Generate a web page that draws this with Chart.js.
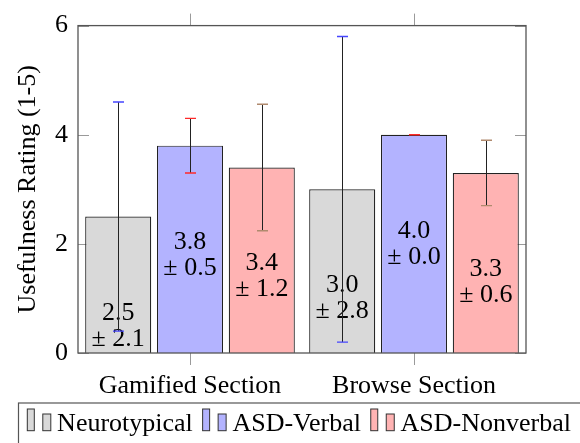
<!DOCTYPE html>
<html>
<head>
<meta charset="utf-8">
<script src="https://cdn.jsdelivr.net/npm/chart.js@4/dist/chart.umd.min.js"></script>
<style>
  body { margin: 0; background: #fff; }
  #wrap { width: 580px; height: 443px; }
</style>
</head>
<body>
<div id="wrap"><canvas id="chart"></canvas></div>
<script>
// ====== DATA ======
const categories = ["Gamified Section", "Browse Section"];
const groups = ["Neurotypical", "ASD-Verbal", "ASD-Nonverbal"];
const neuroMean = [2.5, 3.0];
const neuroErr = [2.1, 2.8];
const verbalMean = [3.8, 4.0];
const verbalErr = [0.5, 0.0];
const nonverbalMean = [3.4, 3.3];
const nonverbalErr = [1.16, 0.6];
const yTicks = [0, 2, 4, 6];

const fills = ["#d9d9d9", "#b3b3ff", "#ffb3b3"];
const capColors = ["#4646ff", "#ff2a2a", "#b08a6e"];
const errs = [neuroErr, verbalErr, nonverbalErr];

Chart.defaults.font.family = "'Liberation Serif', 'Times New Roman', serif";
Chart.defaults.font.size = 26;
Chart.defaults.color = "#000";

// ====== AXIS BOX + TICKS ======
const axisBox = {
  id: "axisBox",
  beforeDatasetsDraw(chart) {
    const { ctx, chartArea: a, scales } = chart;
    ctx.save();
    ctx.strokeStyle = "#9a9a9a";
    ctx.lineWidth = 1;
    yTicks.forEach(v => {
      const y = Math.round(scales.y.getPixelForValue(v)) + 0.5;
      ctx.beginPath();
      ctx.moveTo(a.left, y); ctx.lineTo(a.left + 11, y);
      ctx.moveTo(a.right - 11, y); ctx.lineTo(a.right, y);
      ctx.stroke();
    });
    categories.forEach((c, i) => {
      const x = Math.round(scales.x.getPixelForValue(i)) + 0.5;
      ctx.beginPath();
      ctx.moveTo(x, a.top - 12); ctx.lineTo(x, a.top);
      ctx.moveTo(x, a.bottom); ctx.lineTo(x, a.bottom + 12);
      ctx.stroke();
    });
    ctx.restore();
  },
  afterDraw(chart) {
    const { ctx, chartArea: a } = chart;
    ctx.save();
    ctx.strokeStyle = "#555";
    ctx.lineWidth = 1.3;
    ctx.strokeRect(a.left, a.top, a.right - a.left, a.bottom - a.top);
    ctx.restore();
  }
};

// ====== VALUE LABELS + ERROR BARS ======
const barExtras = {
  id: "barExtras",
  afterDatasetsDraw(chart) {
    const { ctx, scales } = chart;
    ctx.save();
    chart.data.datasets.forEach((ds, di) => {
      const meta = chart.getDatasetMeta(di);
      meta.data.forEach((bar, i) => {
        const m = ds.data[i];
        const e = errs[di][i];
        // labels
        const cy = scales.y.getPixelForValue(m - 2);
        ctx.fillStyle = "#000";
        ctx.font = "26px 'Liberation Serif', serif";
        ctx.textAlign = "center";
        ctx.textBaseline = "middle";
        ctx.fillText(m.toFixed(1), bar.x, cy - 13);
        ctx.fillText("\u00b1 " + e.toFixed(1), bar.x, cy + 13);
        // error bar
        const yt = scales.y.getPixelForValue(m + e);
        const yb = scales.y.getPixelForValue(m - e);
        const x = Math.round(bar.x) + 0.5;
        ctx.strokeStyle = "#222";
        ctx.lineWidth = 1;
        ctx.beginPath();
        ctx.moveTo(x, yt); ctx.lineTo(x, yb);
        ctx.stroke();
        ctx.strokeStyle = capColors[di];
        ctx.lineWidth = 1.4;
        ctx.beginPath();
        ctx.moveTo(x - 5.5, yt); ctx.lineTo(x + 5.5, yt);
        ctx.moveTo(x - 5.5, yb); ctx.lineTo(x + 5.5, yb);
        ctx.stroke();
      });
    });
    ctx.restore();
  }
};

// ====== LEGEND ======
const boxLegend = {
  id: "boxLegend",
  afterDraw(chart) {
    const { ctx } = chart;
    ctx.save();
    ctx.strokeStyle = "#555";
    ctx.lineWidth = 1.2;
    ctx.strokeRect(18.5, 403, 600, 60);
    ctx.font = "26px 'Liberation Serif', serif";
    ctx.textAlign = "left";
    ctx.textBaseline = "alphabetic";
    let s = 27.3;
    chart.data.datasets.forEach((ds, di) => {
      ctx.fillStyle = ds.backgroundColor;
      ctx.strokeStyle = "#333";
      ctx.lineWidth = 1;
      ctx.fillRect(s, 409, 7, 21.7);
      ctx.strokeRect(s, 409, 7, 21.7);
      ctx.fillRect(s + 15.5, 414, 8, 16.7);
      ctx.strokeRect(s + 15.5, 414, 8, 16.7);
      ctx.fillStyle = "#000";
      const tx = s + 29.8;
      ctx.fillText(ds.label, tx, 430.5);
      s = tx + ctx.measureText(ds.label).width + 9.8;
    });
    ctx.restore();
  }
};

const means = [neuroMean, verbalMean, nonverbalMean];

new Chart(document.getElementById("chart"), {
  type: "bar",
  data: {
    labels: categories,
    datasets: groups.map((g, i) => ({
      label: g,
      data: means[i],
      backgroundColor: fills[i],
      borderColor: "#222",
      borderWidth: 1.2,
      barPercentage: 0.92,
      categoryPercentage: 0.9616
    }))
  },
  options: {
    responsive: true,
    maintainAspectRatio: false,
    animation: false,
    layout: { padding: { top: 19, right: 54, left: 0, bottom: 40 } },
    plugins: {
      legend: { display: false },
      tooltip: { enabled: false }
    },
    scales: {
      x: {
        offset: true,
        grid: { display: false, drawTicks: false },
        border: { display: false },
        ticks: { padding: 18 },
        afterFit(scale) { scale.height = 50; }
      },
      y: {
        min: 0,
        max: 6,
        afterBuildTicks(scale) { scale.ticks = yTicks.map(v => ({ value: v })); },
        grid: { display: false, drawTicks: false },
        border: { display: false },
        ticks: { padding: 10 },
        title: {
          display: true,
          text: "Usefulness Rating (1-5)",
          padding: { top: 13, bottom: 0 }
        },
        afterFit(scale) { scale.width = 78; }
      }
    }
  },
  plugins: [axisBox, barExtras, boxLegend]
});
</script>
</body>
</html>
